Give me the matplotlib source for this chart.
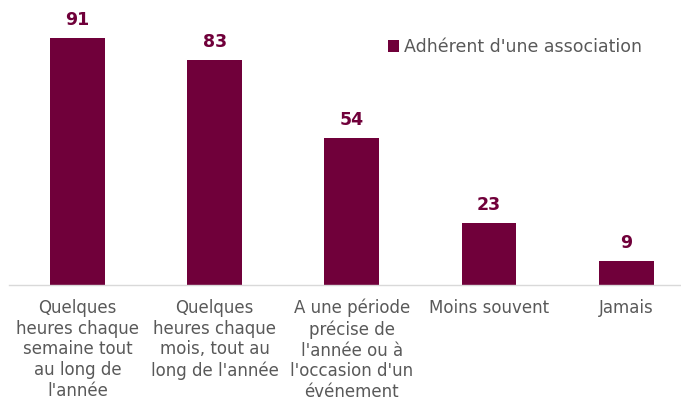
import matplotlib.pyplot as plt

categories = [
    "Quelques\nheures chaque\nsemaine tout\nau long de\nl'année",
    "Quelques\nheures chaque\nmois, tout au\nlong de l'année",
    "A une période\nprécise de\nl'année ou à\nl'occasion d'un\névénement",
    "Moins souvent",
    "Jamais",
]
values = [91, 83, 54, 23, 9]
series_name = "Adhérent d'une association"

bar_color = "#70003a"
text_gray = "#595959"

fig = plt.figure(figsize=(6.81, 4.05), dpi=100)
ax = fig.add_axes([9 / 681, 120 / 405, 672 / 681, 285 / 405])

x = range(len(values))
bars = ax.bar(x, values, width=0.4, color=bar_color, label=series_name)
for xi, v in zip(x, values):
    ax.annotate(str(v), (xi, v), xytext=(0, 6.5), textcoords="offset points",
                ha="center", va="bottom", fontsize=12.5, fontweight="bold",
                color=bar_color)

ax.set_xlim(-0.5, 4.4)
ax.set_ylim(0, 105)
ax.set_yticks([])
ax.set_xticks(list(x))
ax.set_xticklabels(categories, fontsize=12, color=text_gray, linespacing=1.2)
ax.tick_params(axis="x", length=0, pad=10)
for s in ["top", "right", "left"]:
    ax.spines[s].set_visible(False)
ax.spines["bottom"].set_color("#d9d9d9")
ax.spines["bottom"].set_linewidth(1)

leg = ax.legend(loc="upper left", bbox_to_anchor=(372 / 672, 0.89), frameon=False,
                fontsize=12.5, handlelength=0.65, handleheight=0.65, handletextpad=0.3,
                borderaxespad=0)
for t in leg.get_texts():
    t.set_color(text_gray)

fig.savefig("out.png", dpi=100)
